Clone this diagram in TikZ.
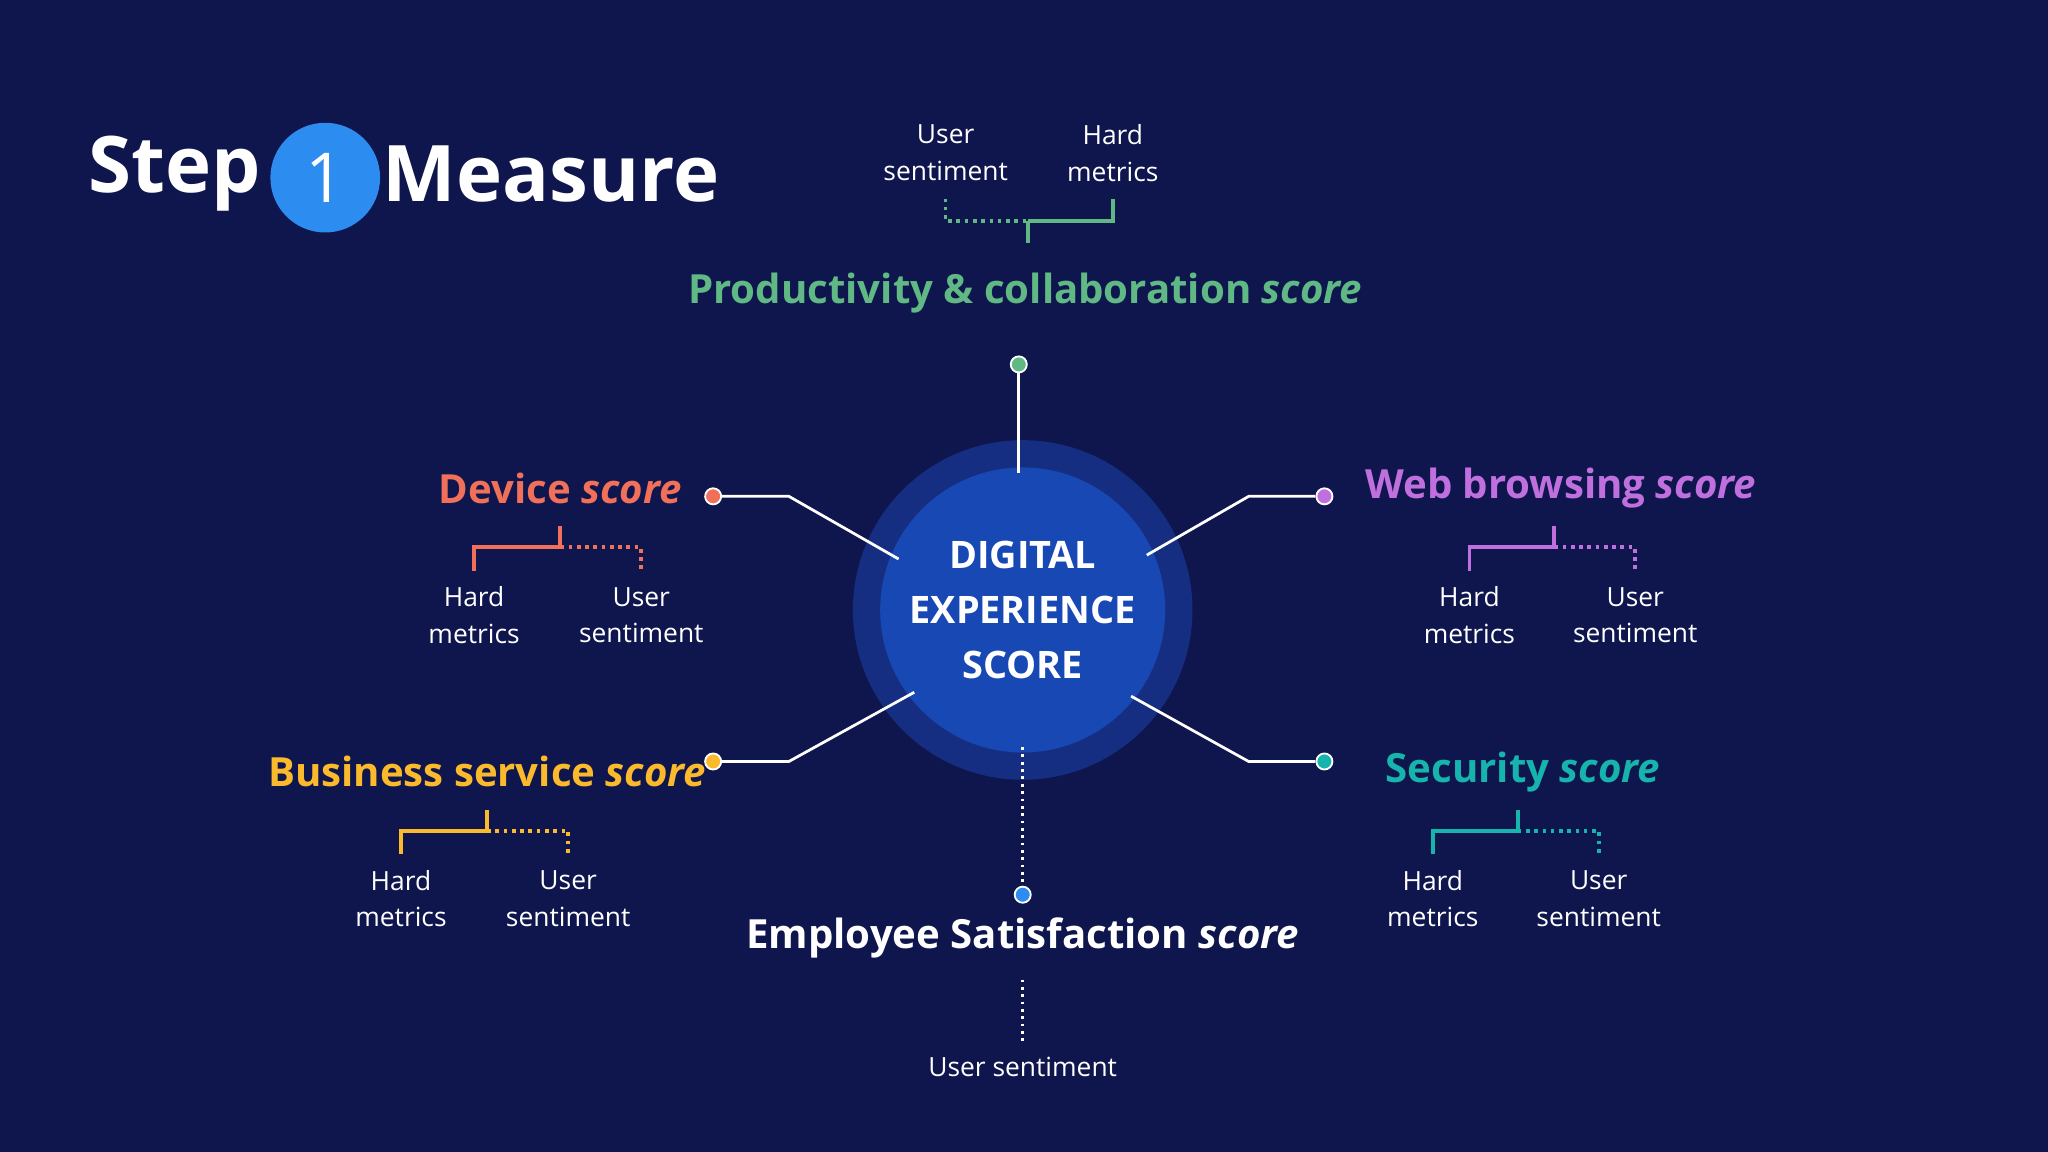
\documentclass[tikz,border=0pt]{standalone}
\usepackage{fontspec}
\setmainfont{Open Sans}
\definecolor{bg}{RGB}{14,22,77}
\definecolor{ring}{RGB}{22,46,130}
\definecolor{core}{RGB}{24,72,180}
\definecolor{cgreen}{RGB}{96,184,132}
\definecolor{cred}{RGB}{240,112,90}
\definecolor{cpurple}{RGB}{192,112,222}
\definecolor{cyellow}{RGB}{250,186,44}
\definecolor{cteal}{RGB}{22,180,172}
\definecolor{cblue}{RGB}{44,140,240}
\begin{document}
\begin{tikzpicture}[x=0.02cm,y=-0.02cm,
  lbl/.style={text=white,font=\fontsize{11.5}{16}\selectfont,align=center},
  ttl/.style={font=\fontsize{17.5}{20}\selectfont\bfseries},
  conn/.style={white,line width=1.2pt},
  dotn/.style={circle,draw=white,line width=0.8pt,inner sep=0pt,minimum size=7pt},
  br/.style={line width=1.6pt},
  brd/.style={line width=1.6pt,dotted}]
\fill[bg] (0,0) rectangle (1568,882);
\useasboundingbox (0,0) rectangle (1568,882);
% header
\node[text=white,font=\fontsize{34}{40}\selectfont\bfseries] (step) at (134,133) {Step};
\node[circle,fill=cblue,minimum size=84*0.02cm,text=white,font=\fontsize{30}{34}\selectfont] (one) at (249,136) {1};
\node[text=white,font=\fontsize{34}{40}\selectfont\bfseries] (meas) at (422,133) {Measure};
% center
\fill[ring] (783,467) circle (130);
\node[circle,fill=core,minimum size=206*0.02cm,text=white,align=center,font=\fontsize{16.5}{24}\selectfont\bfseries] (c) at (783,467) {DIGITAL\\EXPERIENCE\\SCORE};
% connectors
\node[dotn,fill=cgreen] (dg) at (780,279) {};
\coordinate (cg) at (780,362);
\draw[conn] (dg) -- (cg);
\node[dotn,fill=cred] (dr) at (546,380) {};
\coordinate (cr) at (688,428);
\draw[conn] (dr) -- (604,380) -- (cr);
\node[dotn,fill=cpurple] (dp) at (1014,380) {};
\coordinate (cp) at (878,425);
\draw[conn] (dp) -- (956,380) -- (cp);
\node[dotn,fill=cyellow] (dy) at (546,583) {};
\coordinate (cy) at (700,530);
\draw[conn] (dy) -- (604,583) -- (cy);
\node[dotn,fill=cteal] (dt) at (1014,583) {};
\coordinate (ct) at (866,533);
\draw[conn] (dt) -- (956,583) -- (ct);
\node[dotn,fill=cblue] (db) at (783,685) {};
\coordinate (cb) at (783,572);
\draw[white,line width=1.2pt,dotted] (cb) -- (db);
% titles
\node[ttl,text=cgreen] (tg) at (785,224) {Productivity \& collaboration \textit{score}};
\node[ttl,text=cred] (tr) at (429,374) {Device \textit{score}};
\node[ttl,text=cpurple] (tp) at (1195,374) {Web browsing \textit{score}};
\node[ttl,text=cyellow] (ty) at (373,591) {Business service \textit{score}};
\node[ttl,text=cteal] (tt) at (1166,591) {Security \textit{score}};
\node[ttl,text=white] (tb) at (783,718) {Employee Satisfaction \textit{score}};
% bottom
\node[lbl] (lb) at (783,817) {User sentiment};
\draw[white,line width=1.2pt,dotted] (783,750) -- (783,800);
% top bracket
\node[lbl] (lg1) at (724,117) {User\\sentiment};
\node[lbl] (lg2) at (852,117) {Hard\\metrics};
\draw[brd,cgreen] (724,152) -- (724,169) -- (787,169);
\draw[br,cgreen] (787,169) -- (852,169) -- (852,152);
\draw[br,cgreen] (787,169) -- (787,186);
% generic lower brackets
\foreach \a/\m/\b/\yy/\col/\n in {363/429/491/419/cred/r, 1125/1190/1252/419/cpurple/p, 307/373/435/636/cyellow/y, 1097/1162/1224/636/cteal/t}{
  \draw[br,\col] (\a,\yy+18) -- (\a,\yy) -- (\m,\yy);
  \draw[br,\col] (\m,\yy) -- (\m,\yy-16);
  \draw[brd,\col] (\m,\yy) -- (\b,\yy) -- (\b,\yy+18);
  \node[lbl] (h\n) at (\a,\yy+52) {Hard\\metrics};
  \node[lbl] (u\n) at (\b,\yy+52) {User\\sentiment};
}
\end{tikzpicture}
\end{document}
